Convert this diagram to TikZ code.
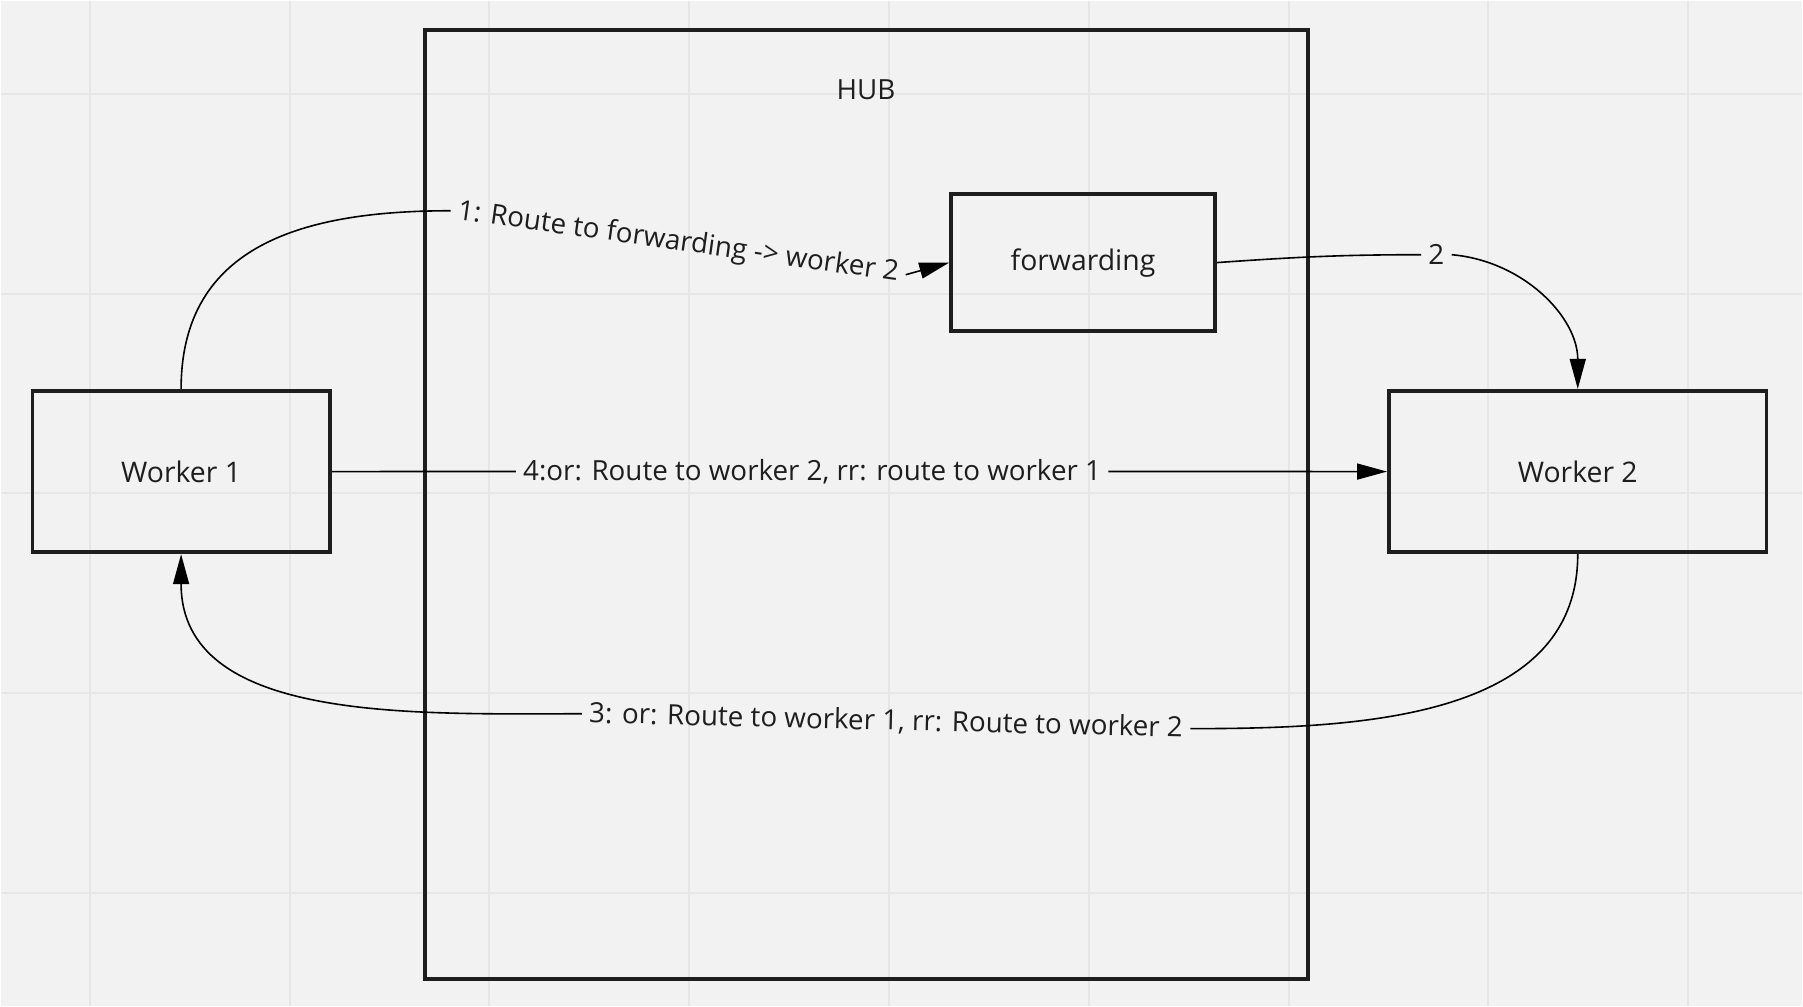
\documentclass[tikz,border=0pt]{standalone}
\usepackage{fontspec}
\setmainfont{Open Sans}
\usetikzlibrary{arrows.meta}
\definecolor{boardbg}{HTML}{F2F2F2}
\definecolor{gridgray}{HTML}{E6E6E6}
\definecolor{inkgray}{HTML}{1E1E1E}

\begin{document}
\begin{tikzpicture}[x=0.5pt,y=0.5pt]

\tikzset{hubbox/.style={rectangle,draw=inkgray,line width=2.1pt,inner sep=0pt},}
\tikzset{workbox/.style={rectangle,draw=inkgray,line width=1.9pt,inner sep=0pt,text=inkgray,font=\fontsize{14.2}{17}\selectfont},}
\tikzset{msg/.style={inner sep=3.5pt,text=inkgray,font=\fontsize{13.9}{17}\selectfont},}
\tikzset{conn/.style={line width=0.8pt,black},}
\tikzset{connarrow/.style={conn,-{Triangle[length=15pt,width=8pt]}},}

%BOARD
\fill[boardbg] (0,0) rectangle (1803,1006);
\foreach \gx in {89,289,...,1689} \draw[gridgray,line width=1pt] (\gx,0) -- (\gx,1006);
\foreach \gy in {113,313,...,913} \draw[gridgray,line width=1pt] (0,\gy) -- (1803,\gy);

%HUB
\draw (866.4,501.8) node [hubbox,minimum width=442pt,minimum height=474.8pt] (hub) {};
\draw (866,917) node [msg] (hublabel) {HUB};

%WORKERS
\draw (180.3,534.9) node [workbox,minimum width=148.8pt,minimum height=80.8pt] (worker1) {Worker 1};
\draw (1578.5,534.9) node [workbox,minimum width=189pt,minimum height=80.8pt] (worker2) {Worker 2};
\draw (1083.2,744.1) node [workbox,minimum width=132pt,minimum height=68.4pt] (fwd) {forwarding};

%MESSAGES
\draw (450,796) node [msg,anchor=west,rotate=-8] (msg1) {1: Route to forwarding -> worker 2};
\draw (1437,752) node [msg] (msg2) {2};
\draw (886,285) node [msg,rotate=-1.4] (msg3) {3: or: Route to worker 1, rr: Route to worker 2};
\draw (812,535) node [msg] (msg4) {4:or: Route to worker 2, rr: route to worker 1};

\draw[conn] (worker1.north) to[out=90,in=180,looseness=1.15] (msg1.west);
\draw[connarrow] (msg1.east) -- (fwd.west);

\draw[conn] (fwd.east) to[out=4,in=180] (msg2.west);
\draw[connarrow] (msg2.east) to[out=-5,in=90] (worker2.north);

\draw[conn] (worker2.south) to[out=-90,in=0] (msg3.east);
\draw[connarrow] (msg3.west) to[out=180,in=-90] (worker1.south);

\draw[conn] (worker1.east) -- (msg4.west);
\draw[connarrow] (msg4.east) -- (worker2.west);

\end{tikzpicture}
\end{document}
